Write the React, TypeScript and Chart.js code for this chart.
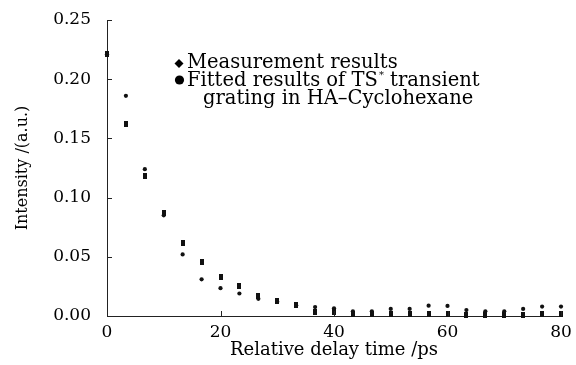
import React, { useEffect, useRef } from 'react';
import { Chart, registerables } from 'chart.js';

Chart.register(...registerables);

const delayTimes = [0, 3.33, 6.67, 10, 13.33, 16.67, 20, 23.33, 26.67, 30, 33.33, 36.67, 40, 43.33, 46.67, 50, 53.33, 56.67, 60, 63.33, 66.67, 70, 73.33, 76.67, 80];
const measured = [0.221, 0.162, 0.118, 0.087, 0.062, 0.046, 0.033, 0.025, 0.017, 0.013, 0.009, 0.003, 0.003, 0.002, 0.002, 0.002, 0.002, 0.002, 0.0017, 0.001, 0.001, 0.001, 0.001, 0.0017, 0.0017];
const fitted = [0.221, 0.186, 0.124, 0.085, 0.052, 0.031, 0.0235, 0.019, 0.0145, 0.012, 0.009, 0.0075, 0.0065, 0.004, 0.004, 0.006, 0.006, 0.0087, 0.0085, 0.005, 0.004, 0.004, 0.006, 0.008, 0.008];
const xTicks = [0, 20, 40, 60, 80];
const yTicks = [0, 0.05, 0.1, 0.15, 0.2, 0.25];
const xTitle = 'Relative delay time /ps';
const yTitle = 'Intensity /(a.u.)';
const legendLine1 = 'Measurement results';
const legendLine2a = 'Fitted results of TS';
const legendLine2sup = '*';
const legendLine2b = ' transient';
const legendLine3 = 'grating in HA\u2013Cyclohexane';

const FONT = '"DejaVu Serif", "Liberation Serif", serif';
const INK = '#000';

function makeRectMarker() {
  const c = document.createElement('canvas');
  c.width = 4;
  c.height = 6;
  const g = c.getContext('2d')!;
  g.fillStyle = '#111';
  g.fillRect(0, 0, 4, 6);
  return c;
}

const extrasPlugin = {
  id: 'extras',
  afterDraw(chart: any) {
    const ctx = chart.ctx;
    const xs = chart.scales.x;
    const ys = chart.scales.y;
    const { left, bottom } = chart.chartArea;
    ctx.save();
    ctx.strokeStyle = '#222';
    ctx.lineWidth = 1;
    yTicks.forEach((v) => {
      const y = Math.round(ys.getPixelForValue(v)) + 0.5;
      ctx.beginPath();
      ctx.moveTo(left, y);
      ctx.lineTo(left + 5, y);
      ctx.stroke();
    });
    xTicks.forEach((v) => {
      const x = Math.round(xs.getPixelForValue(v)) + 0.5;
      ctx.beginPath();
      ctx.moveTo(x, bottom);
      ctx.lineTo(x, bottom - 5);
      ctx.stroke();
    });
    // legend
    ctx.fillStyle = INK;
    ctx.beginPath();
    ctx.moveTo(179, 59);
    ctx.lineTo(183.5, 63.5);
    ctx.lineTo(179, 68);
    ctx.lineTo(174.5, 63.5);
    ctx.closePath();
    ctx.fill();
    ctx.beginPath();
    ctx.arc(179.5, 80, 4.6, 0, Math.PI * 2);
    ctx.fill();
    const fs = 19.5;
    ctx.font = `${fs}px ${FONT}`;
    ctx.textBaseline = 'alphabetic';
    ctx.textAlign = 'left';
    ctx.fillText(legendLine1, 187, 68);
    ctx.fillText(legendLine2a, 187, 86);
    const w = ctx.measureText(legendLine2a).width;
    ctx.font = `10px ${FONT}`;
    ctx.fillText(legendLine2sup, 187 + w + 1, 78);
    const ws = ctx.measureText(legendLine2sup).width;
    ctx.font = `${fs}px ${FONT}`;
    ctx.fillText(legendLine2b, 187 + w + ws + 1, 86);
    ctx.fillText(legendLine3, 203, 104);
    ctx.restore();
  },
};

export default function App() {
  const ref = useRef<HTMLCanvasElement | null>(null);
  useEffect(() => {
    if (!ref.current) return;
    const rectMarker = makeRectMarker();
    const chart = new Chart(ref.current, {
      type: 'scatter',
      data: {
        datasets: [
          {
            label: legendLine1,
            data: delayTimes.map((x, i) => ({ x, y: measured[i] })),
            pointStyle: rectMarker as any,
            pointRadius: 3,
            backgroundColor: INK,
            borderColor: INK,
            borderWidth: 0,
          },
          {
            label: 'Fitted',
            data: delayTimes.map((x, i) => ({ x, y: fitted[i] })),
            pointStyle: 'circle',
            pointRadius: 2.1,
            backgroundColor: '#111',
            borderColor: '#111',
            borderWidth: 0,
          },
        ],
      },
      options: {
        animation: false,
        responsive: false,
        clip: false,
        layout: { padding: { left: 0, right: 15, top: 20, bottom: 0 } },
        plugins: { legend: { display: false }, tooltip: { enabled: false } },
        scales: {
          x: {
            type: 'linear',
            min: 0,
            max: 80,
            afterBuildTicks: (s: any) => { s.ticks = xTicks.map((v) => ({ value: v })); },
            afterFit: (s: any) => { s.height = 49; s.paddingLeft = 0; s.paddingRight = 0; },
            grid: { display: false, drawTicks: false },
            border: { display: true, color: '#222', width: 1 },
            ticks: { color: INK, font: { family: FONT, size: 17 }, padding: 6, maxRotation: 0, callback: (v: any) => String(v) },
            title: { display: true, text: xTitle, color: INK, font: { family: FONT, size: 18 }, padding: { top: 0, bottom: 4 } },
          },
          y: {
            type: 'linear',
            min: 0,
            max: 0.25,
            afterBuildTicks: (s: any) => { s.ticks = yTicks.map((v) => ({ value: v })); },
            afterFit: (s: any) => { s.width = 107; s.paddingTop = 0; s.paddingBottom = 0; },
            grid: { display: false, drawTicks: false },
            border: { display: true, color: '#222', width: 1 },
            ticks: { color: INK, font: { family: FONT, size: 17 }, padding: 16, callback: (v: any) => Number(v).toFixed(2) },
            title: { display: true, text: yTitle, color: INK, font: { family: FONT, size: 16 }, padding: { top: 13, bottom: 0 } },
          },
        },
      },
      plugins: [extrasPlugin],
    });
    return () => chart.destroy();
  }, []);
  return (
    <div style={{ position: 'fixed', left: 0, top: 0, width: 576, height: 365, background: '#fff' }}>
      <canvas ref={ref} width={576} height={365} style={{ display: 'block' }} />
    </div>
  );
}
